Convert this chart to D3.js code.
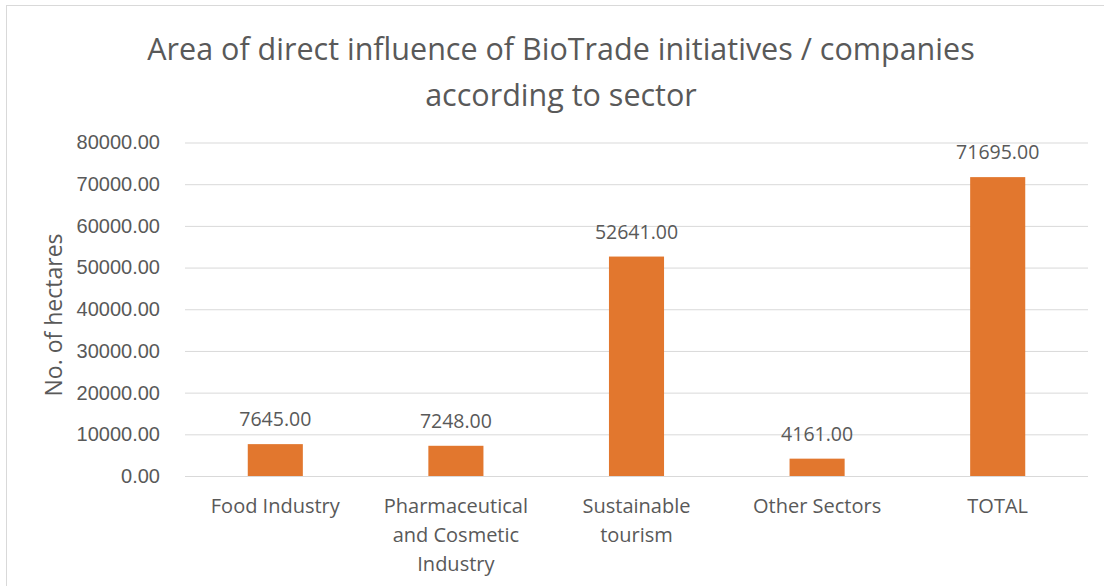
<!DOCTYPE html>
<html>
<head>
<meta charset="utf-8">
<script src="https://cdn.jsdelivr.net/npm/d3@7"></script>
<style>
  body { margin: 0; background: #fff; }
  svg { display: block; font-family: "Open Sans", "Noto Sans", sans-serif; }
</style>
</head>
<body>
<div class="chart"></div>
<script>
'use strict';

// Chart data
const sectors = [
  ["Food Industry"],
  ["Pharmaceutical", "and Cosmetic", "Industry"],
  ["Sustainable", "tourism"],
  ["Other Sectors"],
  ["TOTAL"]
];
const hectares = [7645, 7248, 52641, 4161, 71695];
const yTicks = [0, 10000, 20000, 30000, 40000, 50000, 60000, 70000, 80000];
const titleLines = ["Area of direct influence of BioTrade initiatives / companies", "according to sector"];

// Canvas size
const W = 1104, H = 586;
const margin = {top: 142.5, left: 185, right: 16, bottom: 110};
const w = W - margin.left - margin.right;
const h = H - margin.top - margin.bottom;
const textColor = "#595959";

const svg = d3.select(".chart")
  .append("svg")
  .attr("width", W)
  .attr("height", H);

// outer chart border
svg.append("rect")
  .attr("x", 6.5)
  .attr("y", 5.5)
  .attr("width", W + 10)
  .attr("height", H + 10)
  .attr("fill", "none")
  .attr("stroke", "#d9d9d9");

// title
svg.append("g")
  .selectAll("text")
  .data(titleLines)
  .enter()
  .append("text")
  .attr("x", 561)
  .attr("y", (d, i) => 60 + i * 46)
  .attr("text-anchor", "middle")
  .style("font-size", "30.5px")
  .attr("fill", textColor)
  .text(d => d);

const g = svg.append("g")
  .attr("transform", `translate(${margin.left}, ${margin.top})`);

// scales
const xScale = d3.scaleBand().domain(d3.range(sectors.length)).range([0, w]).paddingInner(0.695).paddingOuter(0.3475);
const yScale = d3.scaleLinear().domain([0, 80000]).range([h, 0]);

// gridlines and y axis
const yAxis = d3.axisLeft(yScale)
  .tickValues(yTicks)
  .tickSize(-w)
  .tickPadding(25)
  .tickFormat(d3.format(".2f"));
g.append("g")
  .attr("class", "y-axis")
  .call(yAxis)
  .call(s => s.select(".domain").remove())
  .call(s => s.selectAll(".tick line").attr("stroke", "#d9d9d9"))
  .call(s => s.selectAll(".tick text").attr("fill", textColor).style("font-size", "20px"));

// bars
g.selectAll("rect.bar")
  .data(hectares)
  .enter()
  .append("rect")
  .attr("class", "bar")
  .attr("x", (d, i) => xScale(i))
  .attr("y", d => yScale(d))
  .attr("width", xScale.bandwidth())
  .attr("height", d => h - yScale(d))
  .attr("fill", "#e2772e");

// value labels
g.selectAll("text.value")
  .data(hectares)
  .enter()
  .append("text")
  .attr("class", "value")
  .attr("x", (d, i) => xScale(i) + xScale.bandwidth() / 2)
  .attr("y", d => yScale(d) - 18)
  .attr("text-anchor", "middle")
  .attr("fill", textColor)
  .style("font-size", "19.5px")
  .text(d => d3.format(".2f")(d));

// category labels
const cat = g.selectAll("text.cat")
  .data(sectors)
  .enter()
  .append("text")
  .attr("class", "cat")
  .attr("x", (d, i) => xScale(i) + xScale.bandwidth() / 2)
  .attr("y", h + 37)
  .attr("text-anchor", "middle")
  .attr("fill", textColor)
  .style("font-size", "20px");
cat.selectAll("tspan")
  .data(d => d)
  .enter()
  .append("tspan")
  .attr("x", function() { return this.parentNode.getAttribute("x"); })
  .attr("dy", (d, i) => i === 0 ? 0 : 29)
  .text(d => d);

// y axis title
svg.append("text")
  .attr("transform", "translate(62, 315) rotate(-90)")
  .attr("text-anchor", "middle")
  .attr("fill", textColor)
  .style("font-size", "23px")
  .text("No. of hectares");
</script>
</body>
</html>
